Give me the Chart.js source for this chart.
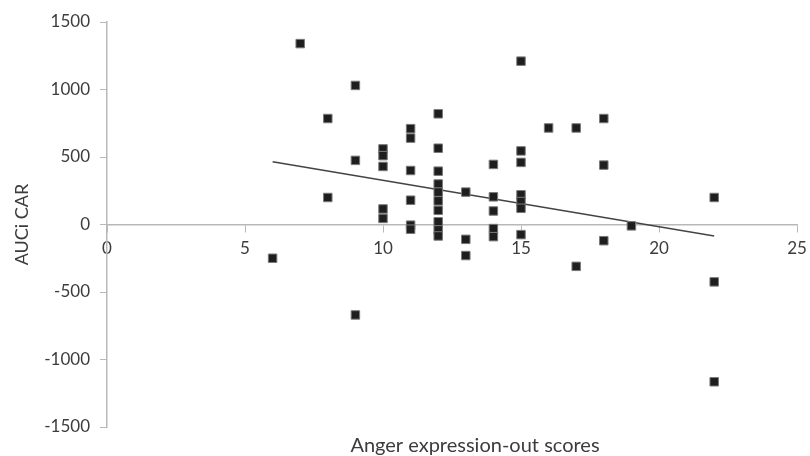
<!DOCTYPE html>
<html>
<head>
<meta charset="utf-8">
<script src="https://cdn.jsdelivr.net/npm/chart.js@4.4.1/dist/chart.umd.min.js"></script>
<style>
  html, body { margin: 0; padding: 0; background: #ffffff; }
  #wrap { width: 810px; height: 456px; position: relative; }
</style>
</head>
<body>
<div id="wrap"><canvas id="c"></canvas></div>
<script>
// Anger expression-out scores (x) and AUCi CAR (y)
const scores = [
  6,
  7,
  8, 8,
  9, 9, 9,
  10, 10, 10, 10, 10,
  11, 11, 11, 11, 11, 11,
  12, 12, 12, 12, 12, 12, 12, 12, 12, 12,
  13, 13, 13,
  14, 14, 14, 14, 14,
  15, 15, 15, 15, 15, 15, 15,
  16,
  17, 17,
  18, 18, 18,
  19,
  22, 22, 22
];
const aucValues = [
  -250,
  1340,
  785, 200,
  1030, 475, -670,
  560, 510, 430, 115, 45,
  710, 640, 400, 180, -5, -35,
  820, 565, 395, 300, 240, 175, 105, 20, -40, -85,
  240, -110, -230,
  445, 205, 100, -30, -90,
  1210, 545, 460, 220, 170, 120, -75,
  715,
  715, -310,
  785, 440, -120,
  -10,
  200, -425, -1165
];
// Linear trend line end points
const trendX = [6, 22];
const trendY = [465, -85];

const xTicks = [0, 5, 10, 15, 20, 25];
const yTicks = [-1500, -1000, -500, 0, 500, 1000, 1500];

const xTitle = 'Anger expression-out scores';
const yTitle = 'AUCi CAR';

const FONT = 'Lato';
const TEXT = '#3c3c3c';
const AXIS = '#b8b8b8';

const points = scores.map((s, i) => ({ x: s, y: aucValues[i] }));
const trend = trendX.map((s, i) => ({ x: s, y: trendY[i] }));

const xTitlePlugin = {
  id: 'xTitlePlugin',
  afterDraw(chart) {
    const { ctx, chartArea } = chart;
    ctx.save();
    ctx.font = '20px ' + FONT;
    ctx.fillStyle = TEXT;
    ctx.textAlign = 'center';
    ctx.textBaseline = 'middle';
    ctx.fillText(xTitle, (chartArea.left + chartArea.right) / 2 + 23, chartArea.bottom + 19);
    ctx.restore();
  }
};

new Chart(document.getElementById('c'), {
  type: 'scatter',
  data: {
    datasets: [
      {
        label: 'AUCi CAR',
        data: points,
        pointStyle: 'rect',
        pointRadius: 6,
        pointHoverRadius: 6,
        backgroundColor: '#1e1e1e',
        borderColor: '#7a7a7a',
        borderWidth: 1,
        order: 1
      },
      {
        type: 'line',
        label: 'Trend',
        data: trend,
        borderColor: '#444444',
        borderWidth: 1.5,
        pointRadius: 0,
        fill: false,
        order: 2
      }
    ]
  },
  plugins: [xTitlePlugin],
  options: {
    responsive: true,
    maintainAspectRatio: false,
    animation: false,
    layout: { padding: { left: 0, right: 13, top: 22, bottom: 29 } },
    plugins: {
      legend: { display: false },
      tooltip: { enabled: false }
    },
    scales: {
      x: {
        type: 'linear',
        min: 0,
        max: 25,
        position: { y: 0 },
        afterBuildTicks(scale) { scale.ticks = xTicks.map(v => ({ value: v })); },
        afterFit(scale) { scale.paddingLeft = 0; scale.paddingRight = 0; },
        grid: { drawOnChartArea: false, drawTicks: true, tickLength: 7, color: AXIS },
        border: { display: true, color: AXIS, width: 1.5 },
        ticks: { font: { family: FONT, size: 17 }, color: TEXT, padding: 7, maxRotation: 0,
                 callback: v => String(v) }
      },
      y: {
        type: 'linear',
        min: -1500,
        max: 1500,
        afterBuildTicks(scale) { scale.ticks = yTicks.map(v => ({ value: v })); },
        afterFit(scale) { scale.width = 107; },
        grid: { drawOnChartArea: false, drawTicks: true, tickLength: 7, color: AXIS },
        border: { display: true, color: AXIS, width: 1.5 },
        ticks: { font: { family: FONT, size: 17 }, color: TEXT, padding: 10,
                 callback: v => String(v) },
        title: {
          display: true,
          text: yTitle,
          font: { family: FONT, size: 18 },
          color: TEXT,
          padding: { top: 11, bottom: 0 }
        }
      }
    }
  }
});
</script>
</body>
</html>
